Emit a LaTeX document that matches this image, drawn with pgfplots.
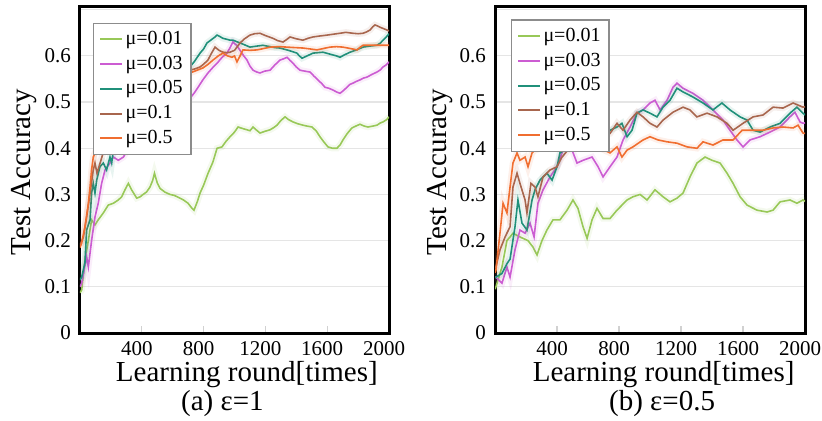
\documentclass[border=0pt]{standalone}
\usepackage{fontspec}
\setmainfont{Liberation Serif}
\usepackage{pgfplots}
\usepackage{pgfplotstable}
\pgfplotsset{compat=1.18}

\definecolor{muone}{HTML}{98C858}
\definecolor{mutwo}{HTML}{CC5CD2}
\definecolor{muthree}{HTML}{20907A}
\definecolor{mufour}{HTML}{A8664E}
\definecolor{mufive}{HTML}{F06E30}

% ---------- epsilon = 1 ----------
\pgfplotstableread{
x y
0 0.087
11 0.093
32 0.158
54 0.20
75 0.245
97 0.234
118 0.245
151 0.26
183 0.277
216 0.281
248 0.288
270 0.295
291 0.31
313 0.324
334 0.31
367 0.292
390 0.295
408 0.30
430 0.305
453 0.316
470 0.33
482 0.346
500 0.325
518 0.313
550 0.305
583 0.30
610 0.298
647 0.292
670 0.288
699 0.281
720 0.272
738 0.266
760 0.285
777 0.303
800 0.32
829 0.346
860 0.37
887 0.40
919 0.403
945 0.415
971 0.425
1000 0.435
1023 0.446
1050 0.443
1081 0.44
1100 0.438
1120 0.446
1140 0.44
1165 0.433
1200 0.437
1230 0.44
1255 0.445
1275 0.45
1300 0.46
1327 0.468
1350 0.462
1379 0.457
1410 0.453
1443 0.45
1470 0.448
1502 0.446
1530 0.437
1553 0.425
1580 0.413
1605 0.403
1635 0.40
1663 0.40
1685 0.408
1702 0.418
1730 0.432
1760 0.444
1785 0.448
1812 0.452
1840 0.448
1864 0.446
1895 0.448
1922 0.45
1945 0.455
1961 0.457
1985 0.462
2000 0.468
}\aA

\pgfplotstableread{
x y
0 0.10
11 0.108
43 0.165
54 0.143
75 0.20
97 0.251
118 0.281
140 0.324
162 0.353
194 0.368
216 0.381
248 0.374
281 0.381
300 0.392
330 0.41
380 0.43
430 0.445
480 0.46
530 0.47
580 0.48
630 0.49
680 0.50
712 0.508
740 0.52
764 0.532
795 0.548
828 0.563
860 0.575
887 0.584
920 0.597
951 0.606
975 0.62
990 0.63
1016 0.622
1040 0.61
1060 0.60
1081 0.591
1100 0.578
1120 0.569
1145 0.565
1165 0.563
1195 0.567
1230 0.569
1260 0.58
1295 0.591
1320 0.594
1340 0.597
1360 0.59
1379 0.584
1400 0.576
1424 0.569
1455 0.567
1489 0.565
1515 0.556
1540 0.548
1565 0.54
1586 0.532
1610 0.53
1638 0.526
1660 0.522
1683 0.519
1705 0.525
1728 0.532
1745 0.538
1767 0.541
1790 0.545
1812 0.548
1835 0.552
1857 0.554
1890 0.56
1922 0.565
1945 0.57
1961 0.576
1980 0.58
2000 0.587
}\aB

\pgfplotstableread{
x y
0 0.115
11 0.121
32 0.152
43 0.223
65 0.245
75 0.303
86 0.324
97 0.303
108 0.331
129 0.36
151 0.368
172 0.353
194 0.381
205 0.368
216 0.396
250 0.42
300 0.45
350 0.47
400 0.49
450 0.505
500 0.52
550 0.535
600 0.55
650 0.56
712 0.576
745 0.59
777 0.606
800 0.615
822 0.628
850 0.635
870 0.64
887 0.645
905 0.642
925 0.638
950 0.636
971 0.634
990 0.634
1036 0.628
1065 0.624
1100 0.619
1140 0.621
1184 0.623
1230 0.62
1260 0.618
1294 0.617
1350 0.612
1404 0.606
1420 0.60
1437 0.595
1470 0.60
1508 0.606
1540 0.607
1573 0.608
1605 0.605
1638 0.602
1660 0.60
1683 0.597
1710 0.602
1748 0.608
1790 0.613
1832 0.619
1870 0.621
1922 0.623
1945 0.628
1961 0.634
1980 0.64
2000 0.648
}\aC

\pgfplotstableread{
x y
0 0.19
22 0.208
43 0.251
65 0.303
86 0.353
97 0.368
110 0.346
150 0.39
200 0.42
250 0.44
300 0.46
350 0.48
400 0.50
450 0.515
500 0.53
550 0.54
600 0.55
650 0.56
712 0.569
745 0.572
777 0.576
800 0.582
828 0.591
850 0.605
874 0.619
900 0.612
925 0.608
950 0.607
971 0.608
1000 0.612
1036 0.628
1065 0.637
1100 0.645
1130 0.648
1165 0.649
1200 0.644
1249 0.638
1280 0.633
1314 0.63
1340 0.636
1359 0.641
1400 0.637
1443 0.634
1475 0.638
1508 0.641
1550 0.643
1599 0.645
1640 0.647
1683 0.649
1720 0.651
1767 0.649
1800 0.648
1832 0.649
1855 0.652
1877 0.656
1895 0.663
1909 0.667
1925 0.665
1942 0.662
1965 0.659
1987 0.656
2000 0.654
}\aD

\pgfplotstableread{
x y
0 0.185
11 0.195
32 0.23
54 0.28
65 0.316
75 0.353
86 0.381
120 0.41
170 0.44
220 0.46
280 0.48
340 0.50
400 0.515
460 0.525
520 0.535
580 0.545
640 0.553
712 0.563
750 0.568
796 0.574
830 0.582
861 0.591
895 0.60
925 0.606
955 0.60
984 0.597
1000 0.60
1016 0.587
1036 0.60
1055 0.613
1100 0.612
1146 0.613
1190 0.616
1230 0.619
1290 0.62
1340 0.619
1390 0.618
1443 0.617
1490 0.615
1534 0.613
1575 0.616
1618 0.619
1660 0.62
1702 0.619
1750 0.616
1793 0.613
1810 0.618
1832 0.623
1880 0.623
1922 0.623
1960 0.623
2000 0.623
}\aE

% ---------- epsilon = 0.5 ----------
\pgfplotstableread{
x y
0 0.095
6 0.10
45 0.143
77 0.20
116 0.216
161 0.208
213 0.20
245 0.186
271 0.169
303 0.20
335 0.223
374 0.245
419 0.245
465 0.266
503 0.288
535 0.27
568 0.23
594 0.205
626 0.245
658 0.27
697 0.248
742 0.248
787 0.266
852 0.288
890 0.295
936 0.30
981 0.288
1032 0.31
1084 0.295
1129 0.284
1174 0.292
1213 0.303
1258 0.338
1303 0.368
1355 0.381
1400 0.374
1452 0.368
1497 0.346
1536 0.324
1581 0.295
1626 0.277
1690 0.266
1755 0.262
1794 0.266
1839 0.284
1903 0.288
1948 0.281
1987 0.288
2000 0.285
}\bA

\pgfplotstableread{
x y
0 0.12
6 0.121
45 0.108
77 0.143
97 0.121
129 0.18
161 0.223
194 0.216
226 0.238
252 0.208
277 0.281
310 0.31
355 0.338
400 0.36
432 0.39
465 0.418
497 0.396
529 0.368
568 0.374
626 0.381
665 0.36
697 0.338
742 0.36
787 0.381
826 0.418
871 0.446
916 0.476
955 0.483
1000 0.498
1032 0.504
1065 0.483
1110 0.504
1148 0.532
1174 0.541
1213 0.53
1277 0.519
1342 0.504
1406 0.483
1471 0.461
1516 0.439
1561 0.418
1600 0.403
1645 0.418
1710 0.425
1774 0.435
1839 0.446
1903 0.468
1935 0.478
1968 0.457
1987 0.454
2000 0.455
}\bB

\pgfplotstableread{
x y
0 0.12
6 0.121
45 0.129
77 0.15
97 0.16
129 0.23
148 0.288
174 0.238
206 0.223
239 0.288
258 0.31
290 0.331
335 0.346
368 0.331
400 0.36
419 0.39
470 0.40
520 0.41
580 0.42
640 0.425
700 0.432
742 0.439
787 0.446
819 0.454
852 0.425
884 0.439
916 0.476
955 0.483
1000 0.476
1045 0.468
1084 0.489
1129 0.504
1174 0.53
1213 0.522
1277 0.511
1342 0.498
1406 0.483
1464 0.498
1516 0.483
1581 0.468
1626 0.461
1665 0.439
1710 0.435
1774 0.446
1839 0.454
1903 0.476
1948 0.489
1987 0.476
2000 0.472
}\bC

\pgfplotstableread{
x y
0 0.14
6 0.143
32 0.18
65 0.208
97 0.23
116 0.316
142 0.346
161 0.324
194 0.288
206 0.26
232 0.324
258 0.316
277 0.295
310 0.338
355 0.353
400 0.36
430 0.38
480 0.40
540 0.41
600 0.42
660 0.425
710 0.43
742 0.432
787 0.454
826 0.439
871 0.461
916 0.478
955 0.468
1000 0.454
1045 0.446
1084 0.461
1148 0.478
1213 0.489
1258 0.483
1303 0.468
1368 0.476
1432 0.468
1497 0.454
1536 0.439
1600 0.454
1665 0.468
1729 0.472
1794 0.489
1858 0.487
1923 0.498
1987 0.489
2000 0.49
}\bD

\pgfplotstableread{
x y
0 0.13
6 0.136
32 0.216
52 0.281
77 0.26
97 0.316
116 0.368
142 0.39
161 0.374
194 0.381
213 0.36
239 0.39
258 0.396
300 0.40
350 0.405
400 0.40
450 0.41
500 0.405
560 0.40
620 0.41
680 0.40
742 0.39
787 0.403
819 0.381
852 0.396
890 0.403
955 0.418
1000 0.425
1052 0.418
1110 0.414
1174 0.411
1239 0.403
1303 0.40
1342 0.414
1406 0.407
1471 0.418
1536 0.418
1594 0.439
1665 0.439
1729 0.439
1794 0.444
1858 0.446
1923 0.444
1955 0.45
1987 0.433
2000 0.432
}\bE

% one curve: a faint wide halo for the spread, then the mean line
\newcommand{\curve}[2]{%
  \addplot[color=#1, line width=3.2pt, opacity=0.10, forget plot] table {#2};
  \addplot[color=#1, line width=0.8pt] table {#2};
}

\pgfplotsset{
  panel/.style={
    scale only axis,
    width=154.5pt, height=163.5pt,
    xmin=0, xmax=2000, ymin=0, ymax=0.708,
    axis line style={line width=1.5pt, black},
    xtick={400,800,1200,1600,2000},
    ytick={0,0.1,0.2,0.3,0.4,0.5,0.6,0.7},
    yticklabels={0,0.1,0.2,0.3,0.4,0.5,0.6,{}},
    ymajorgrids,
    major grid style={black!10, line width=0.6pt},
    tick align=inside, xtick pos=bottom, ytick pos=left,
    major tick length=3.5pt,
    xtick style={draw=black!18, line width=0.6pt},
    ytick style={draw=none},
    /pgf/number format/assume math mode=true,
    /pgf/number format/set thousands separator={},
    xticklabel style={font=\fontsize{10.5}{12}\selectfont, xshift=-2.5pt, yshift=-0.5pt},
    yticklabel style={font=\fontsize{10.5}{12}\selectfont, xshift=-1pt},
    label style={font=\fontsize{14.5}{16}\selectfont},
    xlabel={Learning round[times]},
    ylabel={Test Accuracy},
    every axis title shift=0pt,
    title style={font=\fontsize{14.5}{16}\selectfont, anchor=center},
    legend cell align=left,
    legend image code/.code={\draw[#1, line width=1pt] (0pt,0pt) -- (11pt,0pt);},
    legend style={draw=black!45, line width=0.6pt, fill=white,
      font=\fontsize{10}{12}\selectfont,
      inner xsep=3pt, inner ysep=2pt, row sep=0.2pt,
      nodes={inner xsep=1.2pt}},
  }
}

\begin{document}
\begin{tikzpicture}
\useasboundingbox (0,0) rectangle (411pt,210pt);

\begin{axis}[panel,
  at={(40pt,43.5pt)}, anchor=south west,
  xlabel style={at={(axis description cs:0.54,-0.128)}, anchor=center},
  ylabel style={at={(axis description cs:-0.181,0.492)}, anchor=center},
  title={(a) ε=1},
  title style={at={(axis description cs:0.461,-0.216)}},
  legend style={at={(0.041,0.949)}, anchor=north west},
]
\curve{muone}{\aA}
\curve{mutwo}{\aB}
\curve{muthree}{\aC}
\curve{mufour}{\aD}
\curve{mufive}{\aE}
\legend{μ=0.01,μ=0.03,μ=0.05,μ=0.1,μ=0.5}
\end{axis}

\begin{axis}[panel,
  at={(247.5pt,43.5pt)}, anchor=south west, width=155pt,
  xlabel style={at={(axis description cs:0.544,-0.128)}, anchor=center},
  ylabel style={at={(axis description cs:-0.177,0.492)}, anchor=center},
  title={(b) ε=0.5},
  title style={at={(axis description cs:0.539,-0.216)}},
  legend style={at={(0.05,0.959)}, anchor=north west},
]
\curve{muone}{\bA}
\curve{mutwo}{\bB}
\curve{muthree}{\bC}
\curve{mufour}{\bD}
\curve{mufive}{\bE}
\legend{μ=0.01,μ=0.03,μ=0.05,μ=0.1,μ=0.5}
\end{axis}
\end{tikzpicture}
\end{document}
